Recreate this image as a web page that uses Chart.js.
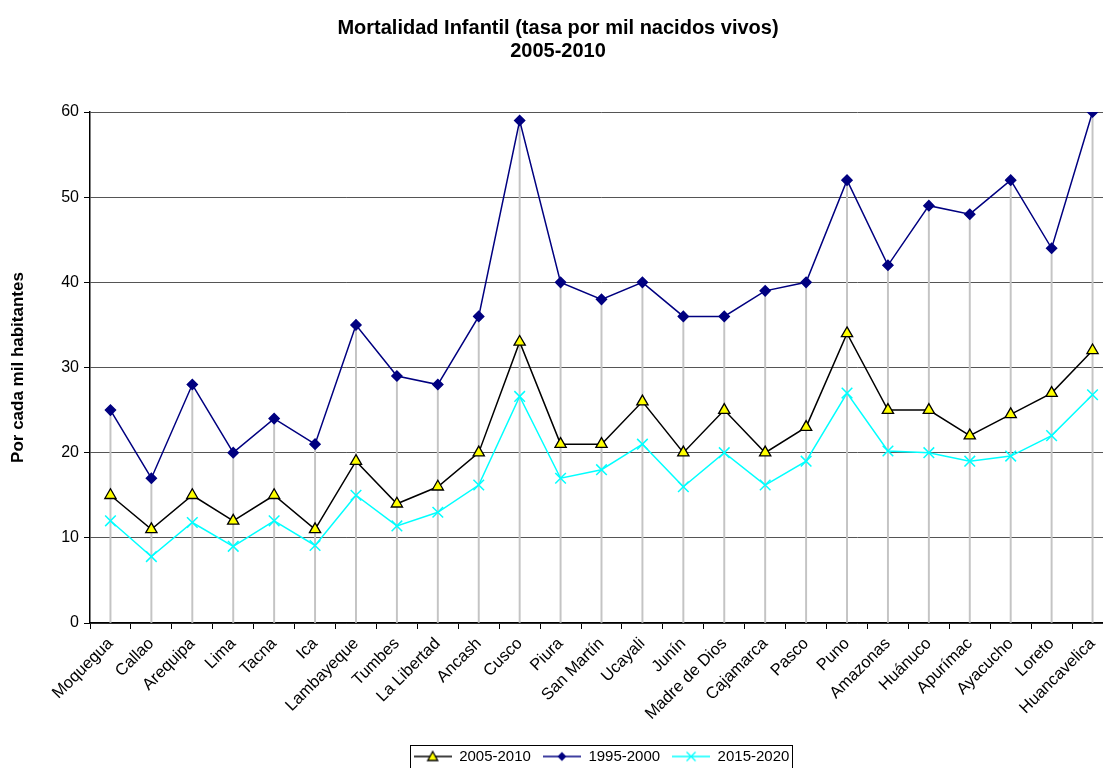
<!DOCTYPE html>
<html>
<head>
<meta charset="utf-8">
<script src="https://cdn.jsdelivr.net/npm/chart.js@4.4.1/dist/chart.umd.min.js"></script>
<style>
html,body{margin:0;padding:0;overflow:hidden;background:#fff;width:1103px;height:768px}
#wrap{width:1122px;height:774px}
</style>
</head>
<body>
<div id="wrap"><canvas id="c" width="1122" height="774"></canvas></div>
<script>
const categories = ['Moquegua','Callao','Arequipa','Lima','Tacna','Ica','Lambayeque','Tumbes','La Libertad','Ancash','Cusco','Piura','San Martín','Ucayali','Junín','Madre de Dios','Cajamarca','Pasco','Puno','Amazonas','Huánuco','Apurímac','Ayacucho','Loreto','Huancavelica'];
const tasa2005_2010 = [15,11,15,12,15,11,19,14,16,20,33,21,21,26,20,25,20,23,34,25,25,22,24.5,27,32];
const tasa1995_2000 = [25,17,28,20,24,21,35,29,28,36,59,40,38,40,36,36,39,40,52,42,49,48,52,44,60];
const tasa2015_2020 = [12,7.8,11.8,9,12,9.1,15,11.4,13,16.2,26.6,17,18,21,16,20,16.2,19,27,20.2,20,19,19.6,22,26.8];
const yTicks = [0,10,20,30,40,50,60];
const titleLines = ['Mortalidad Infantil (tasa por mil nacidos vivos)','2005-2010'];
const yTitle = 'Por cada mil habitantes';

const FONT = 'Liberation Sans, Arial, sans-serif';

// drop lines from the highest point of each category down to the axis
const dropLines = categories.map((c, i) => [0, Math.max(tasa2005_2010[i], tasa1995_2000[i], tasa2015_2020[i])]);

const series = [
  {label:'2005-2010', data:tasa2005_2010, color:'#000000', style:'triangle', radius:6.5, fill:'#ffff00', order:1},
  {label:'1995-2000', data:tasa1995_2000, color:'#000080', style:'rectRot', radius:5, fill:'#000080', order:2},
  {label:'2015-2020', data:tasa2015_2020, color:'#00ffff', style:'crossRot', radius:7.5, fill:'#00ffff', order:3}
];

const ICON_W = 38;
function legendIcon(s) {
  const cv = document.createElement('canvas');
  cv.width = ICON_W; cv.height = 14;
  const g = cv.getContext('2d');
  g.strokeStyle = s.color; g.lineWidth = 1.5;
  g.beginPath(); g.moveTo(0, 7); g.lineTo(ICON_W, 7); g.stroke();
  g.fillStyle = s.fill; g.lineWidth = 1.3;
  const x = ICON_W / 2, y = 7;
  if (s.style === 'triangle') {
    g.beginPath(); g.moveTo(x, y - 5); g.lineTo(x + 5, y + 4); g.lineTo(x - 5, y + 4); g.closePath();
    g.fill(); g.strokeStyle = '#000'; g.stroke();
  } else if (s.style === 'rectRot') {
    g.beginPath(); g.moveTo(x, y - 4.5); g.lineTo(x + 4.5, y); g.lineTo(x, y + 4.5); g.lineTo(x - 4.5, y); g.closePath();
    g.fill();
  } else {
    g.beginPath(); g.moveTo(x - 4.5, y - 4.5); g.lineTo(x + 4.5, y + 4.5); g.moveTo(x + 4.5, y - 4.5); g.lineTo(x - 4.5, y + 4.5); g.stroke();
  }
  return cv;
}
const icons = series.map(legendIcon);

const datasets = series.map(s => ({
  type:'line', label:s.label, data:s.data, borderColor:s.color, borderWidth:1.5, tension:0,
  pointStyle:s.style, pointRadius:s.radius, pointHoverRadius:s.radius,
  pointBackgroundColor:s.fill, pointBorderColor:s.style === 'triangle' ? '#000' : s.color,
  pointBorderWidth:s.style === 'triangle' ? 1.3 : 1.5, order:s.order, fill:false
}));
datasets.push({type:'bar', label:'drop', data:dropLines, backgroundColor:'#c4c4c4', borderWidth:0, barThickness:1.3, order:10});

const legendBorder = {
  id:'legendBorder',
  afterDraw(chart) {
    const lg = chart.legend;
    if (!lg || !lg.legendHitBoxes || !lg.legendHitBoxes.length) return;
    let x0 = Infinity, x1 = -Infinity, y0 = Infinity, y1 = -Infinity;
    lg.legendHitBoxes.forEach(b => { x0 = Math.min(x0, b.left); x1 = Math.max(x1, b.left + b.width); y0 = Math.min(y0, b.top); y1 = Math.max(y1, b.top + b.height); });
    const ctx = chart.ctx;
    ctx.save(); ctx.strokeStyle = '#000'; ctx.lineWidth = 1;
    ctx.strokeRect(Math.round(x0 - 4) + 0.5, Math.round(y0 - 4) + 0.5, Math.round(x1 - x0 + 6), Math.round(y1 - y0 + 8));
    ctx.restore();
  }
};

new Chart(document.getElementById('c'), {
  type:'line',
  data:{labels:categories, datasets:datasets},
  plugins:[legendBorder],
  options:{
    responsive:false, animation:false, devicePixelRatio:1,
    layout:{padding:{left:0, right:6, top:0, bottom:0}},
    plugins:{
      title:{display:true, text:titleLines, color:'#000', font:{family:FONT, size:20, weight:'bold', lineHeight:1.15}, padding:{top:17, bottom:49}},
      legend:{position:'bottom', fullSize:false,
        labels:{usePointStyle:true, pointStyleWidth:ICON_W, boxHeight:14, color:'#000', font:{family:FONT, size:15}, padding:12,
          generateLabels: () => series.map((s, i) => ({text:s.label, pointStyle:icons[i], fillStyle:'rgba(0,0,0,0)', strokeStyle:'rgba(0,0,0,0)', lineWidth:0, hidden:false, datasetIndex:i, fontColor:'#000'}))}},
      tooltip:{enabled:false}
    },
    scales:{
      x:{offset:true,
        grid:{offset:true, drawOnChartArea:false, tickLength:6, tickColor:'#000', color:'#000'},
        border:{color:'#000', width:1.5},
        ticks:{autoSkip:false, maxRotation:45, minRotation:45, padding:5, color:'#000', font:{family:FONT, size:16.5}},
        afterFit:s => { s.height = 114; }
      },
      y:{min:0, max:60,
        afterBuildTicks:s => { s.ticks = yTicks.map(v => ({value:v})); },
        grid:{color:'#555', tickColor:'#000', tickLength:6},
        border:{color:'#000', width:1.5},
        ticks:{color:'#000', padding:5, font:{family:FONT, size:16}},
        title:{display:true, text:yTitle, color:'#000', font:{family:FONT, size:17, weight:'bold'}, padding:{top:8, bottom:0}},
        afterFit:s => { s.width = 90; }
      }
    }
  }
});
</script>
</body>
</html>
